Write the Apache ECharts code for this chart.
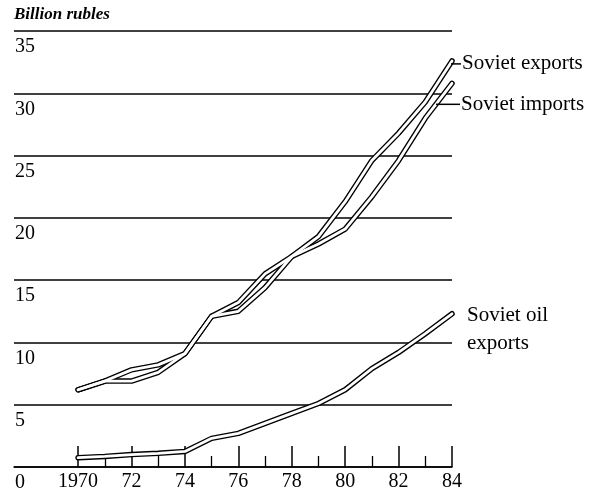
<!DOCTYPE html>
<html>
<head>
<meta charset="utf-8">
<script src="https://cdn.jsdelivr.net/npm/echarts@6/dist/echarts.min.js"></script>
<style>
  html, body { margin: 0; padding: 0; background: #fff; }
  #main { width: 606px; height: 493px; }
</style>
</head>
<body>
<div id="main"></div>
<script>
// data (billion rubles)
const years = [1970, 1971, 1972, 1973, 1974, 1975, 1976, 1977, 1978, 1979, 1980, 1981, 1982, 1983, 1984];
const exportsData = [6.2, 6.9, 7.8, 8.2, 9.1, 12.1, 13.2, 15.5, 16.9, 18.5, 21.3, 24.6, 26.8, 29.3, 32.6];
const importsData = [6.2, 6.9, 6.9, 7.6, 9.1, 12.1, 12.5, 14.4, 16.9, 17.9, 19.1, 21.7, 24.6, 28.0, 30.8];
const oilData = [0.75, 0.85, 1.0, 1.1, 1.25, 2.3, 2.7, 3.5, 4.3, 5.1, 6.2, 7.9, 9.2, 10.7, 12.3];

const majorTicks = [1970, 1972, 1974, 1976, 1978, 1980, 1982, 1984];
const minorTicks = [1971, 1973, 1975, 1977, 1979, 1981, 1983];
const xTickLabels = ['1970', '72', '74', '76', '78', '80', '82', '84'];

const serif = 'Liberation Serif';
const pairs = arr => years.map((y, i) => [y, arr[i]]);

var chartDom = document.getElementById('main');
var myChart = echarts.init(chartDom);

// hollow "double" line: black wide stroke under a white narrow stroke
function outline(name, arr) {
  return {
    name: name, type: 'line', data: pairs(arr), showSymbol: false, silent: true, z: 3,
    lineStyle: { color: '#000', width: 5.5, cap: 'round', join: 'round' }
  };
}
function inner(name, arr, endLabel) {
  return {
    name: name, type: 'line', data: pairs(arr), showSymbol: false, silent: true, z: 4,
    lineStyle: { color: '#fff', width: 2.8, cap: 'round', join: 'round' },
    endLabel: endLabel
  };
}

const labelBase = {
  show: true, distance: 0, color: '#000', fontFamily: serif, fontSize: 21
};

var option = {
  animation: false,
  backgroundColor: '#fff',
  textStyle: { fontFamily: serif, color: '#000' },
  grid: { left: 14, right: 154, top: 31, bottom: 24, containLabel: false },
  xAxis: [
    {
      type: 'value', min: 1967.6, max: 1984,
      axisLine: { show: true, lineStyle: { color: '#000', width: 1.5 } },
      axisTick: { show: true, inside: true, length: 21, customValues: majorTicks, lineStyle: { color: '#000', width: 1.5 } },
      axisLabel: {
        show: true, customValues: majorTicks, margin: 5, color: '#000', fontFamily: serif, fontSize: 20,
        formatter: v => xTickLabels[majorTicks.indexOf(v)]
      },
      splitLine: { show: false }
    },
    {
      type: 'value', min: 1967.6, max: 1984, position: 'bottom',
      axisLine: { show: false },
      axisTick: { show: true, inside: true, length: 11, customValues: minorTicks, lineStyle: { color: '#000', width: 1.3 } },
      axisLabel: { show: false },
      splitLine: { show: false }
    }
  ],
  yAxis: {
    type: 'value', min: 0, max: 35, interval: 5,
    name: 'Billion rubles', nameLocation: 'end', nameGap: 8,
    nameTextStyle: { fontFamily: serif, fontStyle: 'italic', fontWeight: 'bold', fontSize: 17, color: '#000', align: 'left', verticalAlign: 'bottom' },
    axisLine: { show: false },
    axisTick: { show: false },
    axisLabel: {
      inside: true, margin: 1, color: '#000', fontFamily: serif, fontSize: 20,
      verticalAlign: 'top', padding: [6, 0, 0, 0]
    },
    splitLine: { show: true, lineStyle: { color: '#000', width: 1.5 } }
  },
  series: [
    outline('exports-o', exportsData),
    outline('imports-o', importsData),
    outline('oil-o', oilData),
    inner('Soviet exports', exportsData, Object.assign({}, labelBase, {
      offset: [-1, 3],
      rich: {
        ln: { width: 10, height: 1.5, backgroundColor: '#000', fontSize: 1 },
        t: { fontFamily: serif, fontSize: 21, color: '#000', padding: [0, 0, 0, 1] }
      },
      formatter: '{ln| }{t|Soviet exports}'
    })),
    inner('Soviet imports', importsData, Object.assign({}, labelBase, {
      offset: [-16, 21],
      rich: {
        ln: { width: 24, height: 1.5, backgroundColor: '#000', fontSize: 1 },
        t: { fontFamily: serif, fontSize: 21, color: '#000', padding: [0, 0, 0, 1] }
      },
      formatter: '{ln| }{t|Soviet imports}'
    })),
    inner('Soviet oil exports', oilData, Object.assign({}, labelBase, {
      offset: [15, 16], lineHeight: 28, formatter: 'Soviet oil\nexports'
    }))
  ]
};

option && myChart.setOption(option);
</script>
</body>
</html>
